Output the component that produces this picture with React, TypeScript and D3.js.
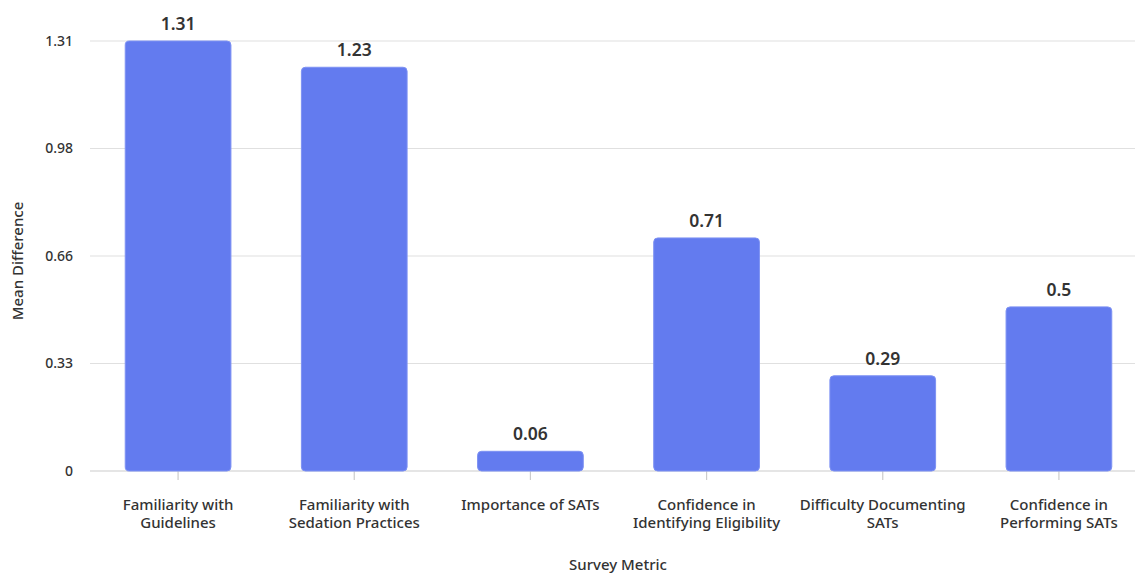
import React from "react";
import * as d3 from "d3";

const categories = [
  ["Familiarity with", "Guidelines"],
  ["Familiarity with", "Sedation Practices"],
  ["Importance of SATs"],
  ["Confidence in", "Identifying Eligibility"],
  ["Difficulty Documenting", "SATs"],
  ["Confidence in", "Performing SATs"],
];
const values = [1.31, 1.23, 0.06, 0.71, 0.29, 0.5];
const yTicks = [0, 0.3275, 0.655, 0.9825, 1.31];
const yTickLabels = ["0", "0.33", "0.66", "0.98", "1.31"];

const W = 1135;
const H = 574;
const FONT = "'Noto Sans', sans-serif";

export default function App() {
  React.useEffect(() => {
    document.body.style.margin = "0";
  }, []);
  const keys = categories.map((c) => c.join(" "));
  const x = d3.scaleBand<string>().domain(keys).range([90, 1147]).paddingInner(0.4).paddingOuter(0.2);
  const y = d3.scaleLinear().domain([0, 1.31]).range([471, 41]);
  const bw = x.bandwidth();

  return (
    <svg width={W} height={H} style={{ display: "block", background: "#fff" }} fontFamily={FONT}>
      {yTicks.map((t, i) => (
        <g key={i}>
          <line x1={90} x2={W} y1={y(t)} y2={y(t)} stroke={i === 0 ? "#cccccc" : "#e0e0e0"} strokeWidth={1.2} />
          <text x={73} y={y(t)} dy="0.35em" textAnchor="end" fontSize={14} fontWeight={500} fill="#333">
            {yTickLabels[i]}
          </text>
        </g>
      ))}
      {keys.map((k, i) => {
        const cx = (x(k) as number) + bw / 2;
        return (
          <g key={k}>
            <line x1={cx} x2={cx} y1={471} y2={480} stroke="#cccccc" strokeWidth={1.2} />
            {categories[i].map((ln, j) => (
              <text key={j} x={cx} y={510 + j * 18} textAnchor="middle" fontSize={15} fill="#333" fontWeight={500}>
                {ln}
              </text>
            ))}
          </g>
        );
      })}
      {values.map((v, i) => {
        const k = keys[i];
        const bx = x(k) as number;
        const top = y(v);
        return (
          <g key={k}>
            <rect x={bx} y={top} width={bw} height={471 - top} rx={4} ry={4} fill="#637bef" stroke="#7d91f3" strokeWidth={1} />
            <text x={bx + bw / 2} y={top - 11} textAnchor="middle" fontSize={17.5} fontWeight={600} fill="#333">
              {v}
            </text>
          </g>
        );
      })}
      <text transform={`translate(23,261) rotate(-90)`} textAnchor="middle" fontSize={15} fontWeight={500} fill="#333">
        Mean Difference
      </text>
      <text x={618} y={570} textAnchor="middle" fontSize={15} fontWeight={500} fill="#333">
        Survey Metric
      </text>
    </svg>
  );
}
